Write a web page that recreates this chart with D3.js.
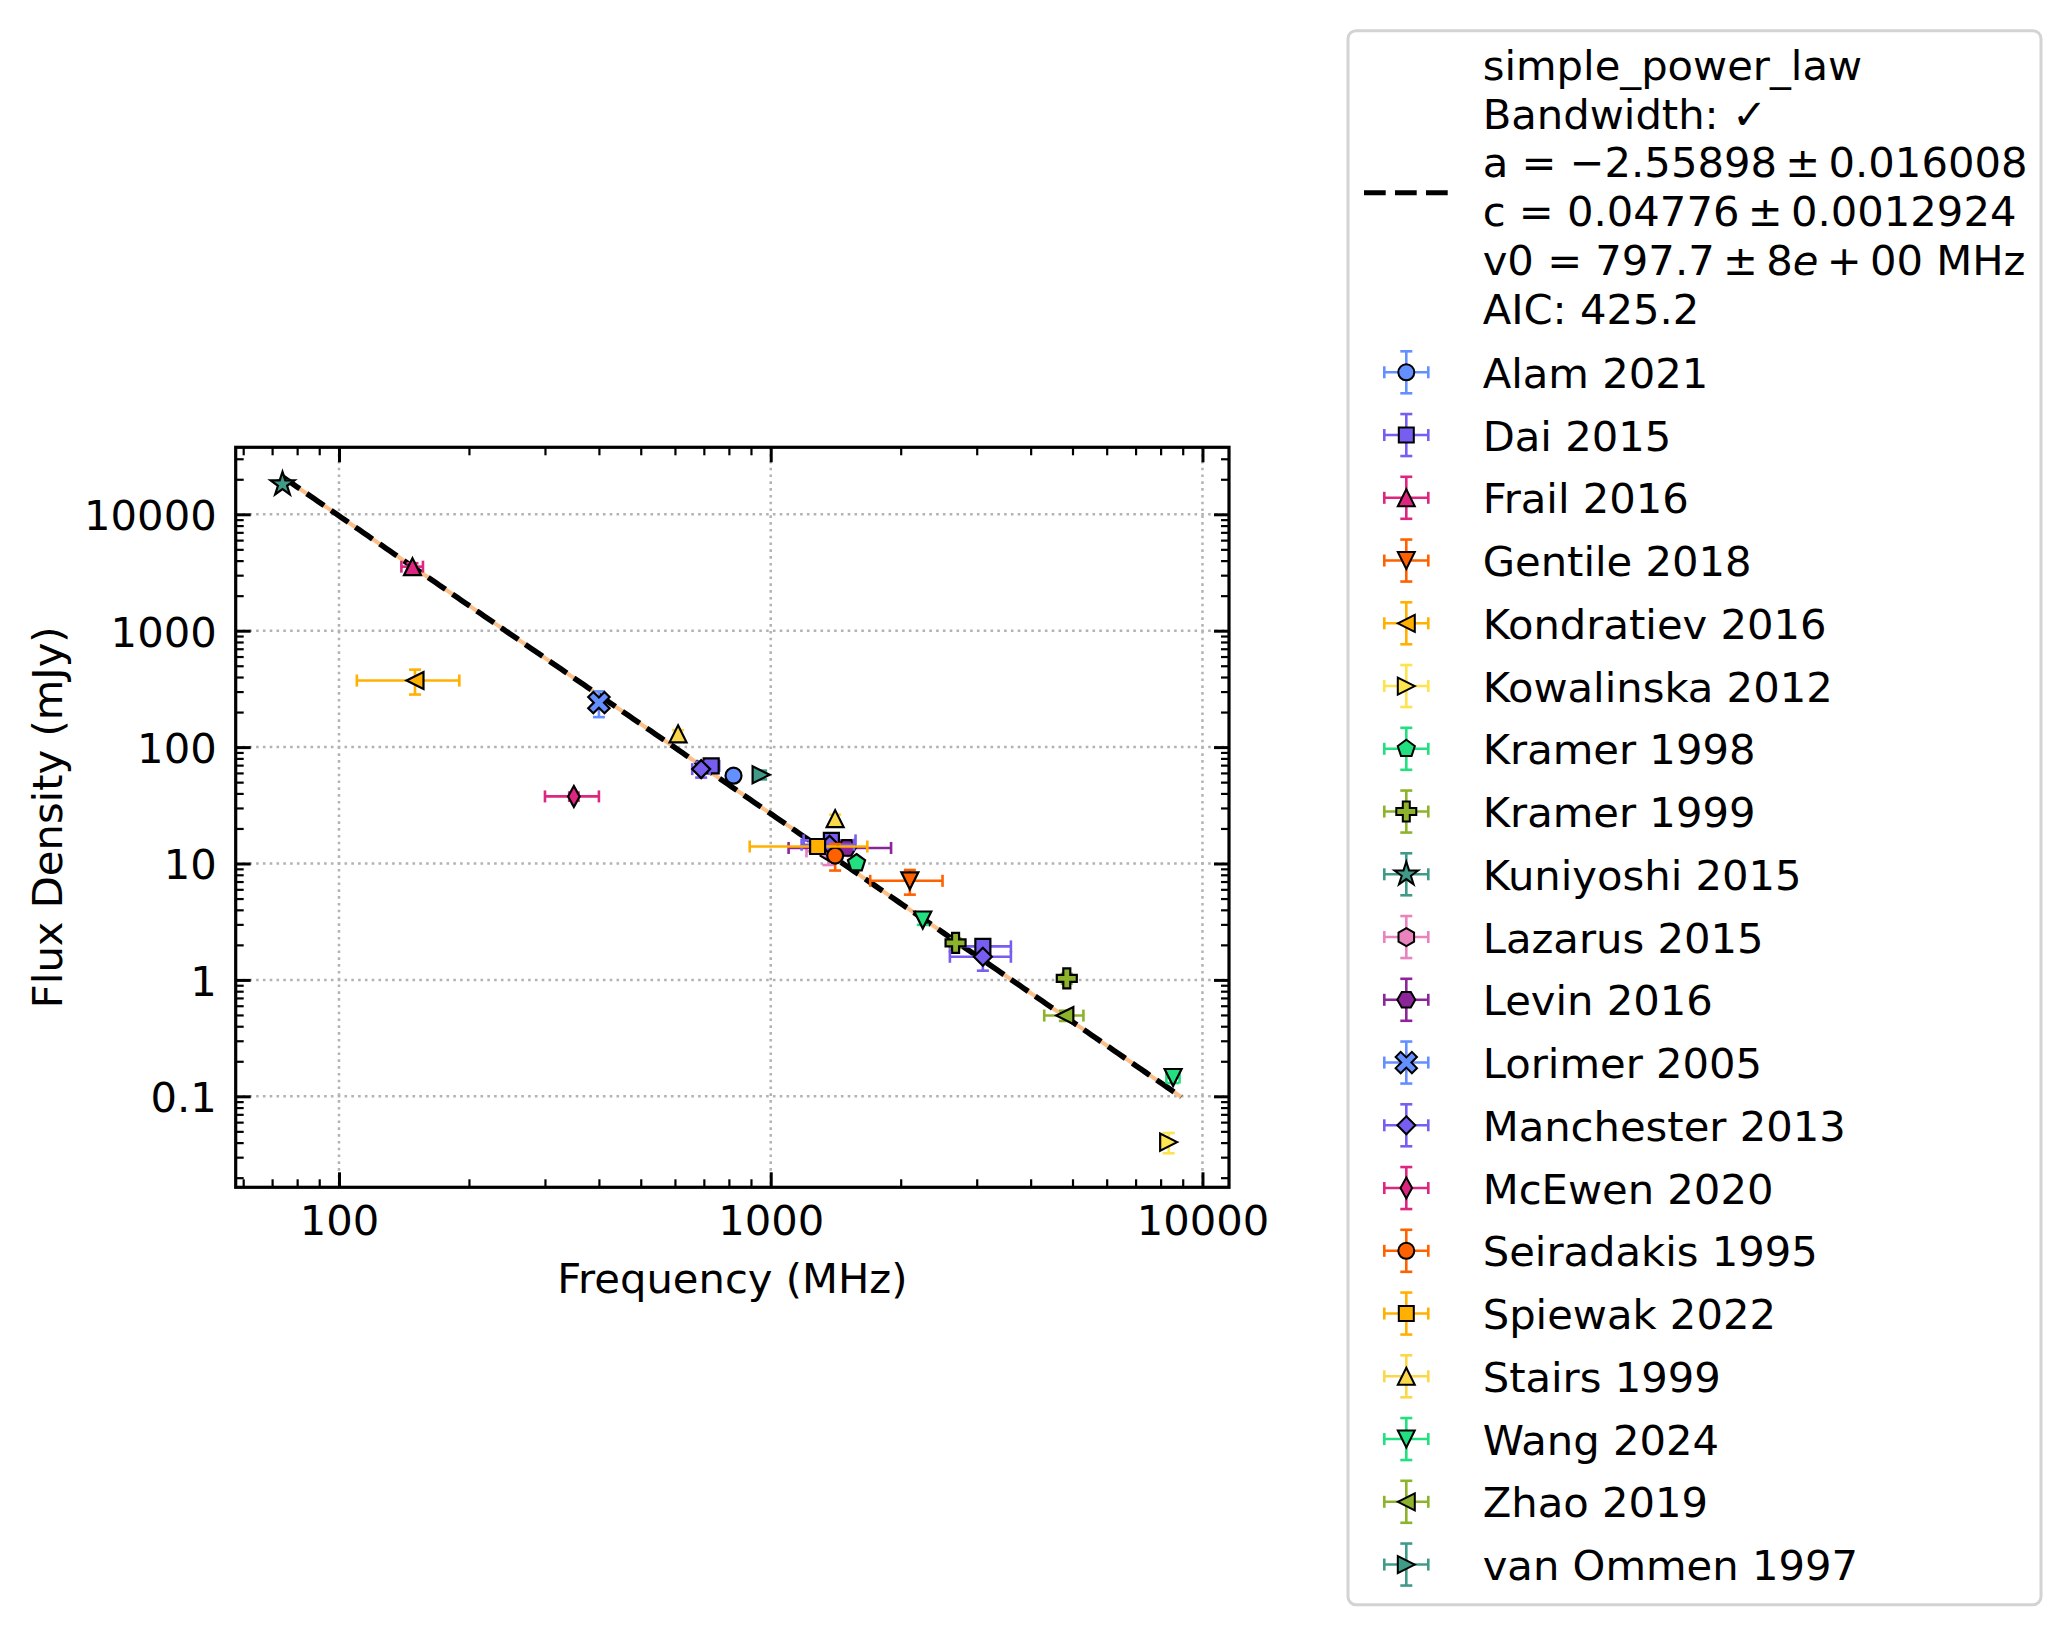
<!DOCTYPE html>
<html>
<head>
<meta charset="utf-8">
<script src="https://cdn.jsdelivr.net/npm/d3@7"></script>
<style>
  body { margin: 0; background: #fff; }
  svg { font-family: 'DejaVu Sans', sans-serif; }
</style>
</head>
<body>
<svg id="chart" width="2070" height="1636"></svg>
<script>
// ---- data (MHz, mJy) ----
var sources = ['Alam 2021', 'Dai 2015', 'Frail 2016', 'Gentile 2018', 'Kondratiev 2016',
  'Kowalinska 2012', 'Kramer 1998', 'Kramer 1999', 'Kuniyoshi 2015', 'Lazarus 2015',
  'Levin 2016', 'Lorimer 2005', 'Manchester 2013', 'McEwen 2020', 'Seiradakis 1995',
  'Spiewak 2022', 'Stairs 1999', 'Wang 2024', 'Zhao 2019', 'van Ommen 1997'];
var colors = ['#648fff', '#785ef0', '#dc267f', '#fe6100', '#ffb000',
  '#fde34d', '#22e07f', '#8db32c', '#409a88', '#e883be',
  '#8b2599', '#648fff', '#785ef0', '#dc267f', '#fe6100',
  '#ffb000', '#fbd84a', '#22e07f', '#8db32c', '#409a88'];
var markers = ['o', 's', '^', 'v', '<', '>', 'p', 'P', '*', 'h',
  'H', 'X', 'D', 'd', 'o', 's', '^', 'v', '<', '>'];

var freqs = [[820], [728, 1382, 3100], [148], [2100], [150],
  [8350], [1580], [2680, 4850], [74], [1360],
  [1500], [400], [690, 1369, 3100], [350], [1410],
  [1284], [610, 1410], [2250, 8550], [4800], [950]];
var fluxes = [[56.8], [69, 15.8, 1.94], [3550], [7.1], [373],
  [0.0404], [10.1], [2.08, 1.03], [18100], [12.7],
  [13.6], [241], [64.7, 14.5, 1.58], [37.7], [11.7],
  [14.0], [130, 24.3], [3.27, 0.145], [0.494], [57.8]];
var freqErrs = [[0], [32, 190, 500], [8.5], [400], [40],
  [0], [0], [0, 0], [0], [150],
  [400], [0], [32, 190, 500], [50], [0],
  [390], [0, 0], [0, 300], [500], [0]];
var fluxErrs = [[5], [6, 1.5, 0.2], [250], [1.7], [90],
  [0.008], [1], [0.2, 0.1], [1500], [3],
  [1.5], [60], [10, 1.5, 0.38], [3], [3],
  [1], [10, 2], [0.3, 0.015], [0.05], [5]];

// simple power law fit
var fitA = -2.55898;
var fitC = 0.04776;   // Jy
var fitV0 = 797.7;    // MHz
var fitRange = [74, 8930];
var fitLabel = [
  [{t: 'simple_power_law'}],
  [{t: 'Bandwidth: \u2713'}],
  [{t: 'a = \u22122.55898\u2009\u00b1\u20090.016008'}],
  [{t: 'c = 0.04776\u2009\u00b1\u20090.0012924'}],
  [{t: 'v0 = 797.7\u2009\u00b1\u20098'}, {t: 'e', it: true}, {t: '\u2009+\u200900 MHz'}],
  [{t: 'AIC: 425.2'}]
];

var xTicksMajor = [100, 1000, 10000];
var yTicksMajor = [0.1, 1, 10, 100, 1000, 10000];

// ---- layout ----
var X0 = 235.7, X1 = 1229, Y0 = 447.3, Y1 = 1187.3;
var FS = 41.7;

var svg = d3.select('#chart');

var x = d3.scaleLog().domain([57.65, 11520]).range([X0, X1]);
var y = d3.scaleLog().domain([0.01653, 37640]).range([Y1, Y0]);

function minorTicks(dom) {
  var out = [];
  for (var e = -3; e <= 5; e++) {
    for (var m = 2; m <= 9; m++) {
      var v = m * Math.pow(10, e);
      if (v >= dom[0] && v <= dom[1]) out.push(v);
    }
  }
  return out;
}

/**
 * Grid
 */
var grid = svg.append('g').attr('class', 'grid');
grid.selectAll('line.gx').data(xTicksMajor).enter().append('line')
  .attr('x1', function (d) { return x(d); }).attr('x2', function (d) { return x(d); })
  .attr('y1', Y0).attr('y2', Y1);
grid.selectAll('line.gy').data(yTicksMajor).enter().append('line')
  .attr('y1', function (d) { return y(d); }).attr('y2', function (d) { return y(d); })
  .attr('x1', X0).attr('x2', X1);
grid.selectAll('line')
  .attr('stroke', '#b3b3b3')
  .attr('stroke-width', 2.5)
  .attr('stroke-dasharray', '2.6,4.2');

/**
 * Axes (ticks inward on all four sides)
 */
function styleAxis(sel, width) {
  sel.select('.domain').remove();
  sel.selectAll('.tick line').attr('stroke', '#000').attr('stroke-width', width);
  sel.selectAll('.tick text')
    .attr('fill', '#000')
    .style('font-size', FS + 'px')
    .style('font-family', "'DejaVu Sans', sans-serif");
}

var fmt = function (d) { return String(d); };

svg.append('g').attr('transform', 'translate(0,' + Y1 + ')')
  .call(d3.axisBottom(x).tickValues(xTicksMajor).tickFormat(fmt)
    .tickSizeInner(-15).tickSizeOuter(0).tickPadding(18))
  .call(styleAxis, 3);
svg.append('g').attr('transform', 'translate(0,' + Y1 + ')')
  .call(d3.axisBottom(x).tickValues(minorTicks(x.domain())).tickFormat('')
    .tickSizeInner(-8).tickSizeOuter(0))
  .call(styleAxis, 2.2);
svg.append('g').attr('transform', 'translate(0,' + Y0 + ')')
  .call(d3.axisTop(x).tickValues(xTicksMajor).tickFormat('')
    .tickSizeInner(-15).tickSizeOuter(0))
  .call(styleAxis, 3);
svg.append('g').attr('transform', 'translate(0,' + Y0 + ')')
  .call(d3.axisTop(x).tickValues(minorTicks(x.domain())).tickFormat('')
    .tickSizeInner(-8).tickSizeOuter(0))
  .call(styleAxis, 2.2);

var yAxis = svg.append('g').attr('transform', 'translate(' + X0 + ',0)')
  .call(d3.axisLeft(y).tickValues(yTicksMajor).tickFormat(fmt)
    .tickSizeInner(-15).tickSizeOuter(0).tickPadding(19))
  .call(styleAxis, 3);
yAxis.selectAll('.tick text').attr('dy', '0.37em');
svg.append('g').attr('transform', 'translate(' + X0 + ',0)')
  .call(d3.axisLeft(y).tickValues(minorTicks(y.domain())).tickFormat('')
    .tickSizeInner(-8).tickSizeOuter(0))
  .call(styleAxis, 2.2);
svg.append('g').attr('transform', 'translate(' + X1 + ',0)')
  .call(d3.axisRight(y).tickValues(yTicksMajor).tickFormat('')
    .tickSizeInner(-15).tickSizeOuter(0))
  .call(styleAxis, 3);
svg.append('g').attr('transform', 'translate(' + X1 + ',0)')
  .call(d3.axisRight(y).tickValues(minorTicks(y.domain())).tickFormat('')
    .tickSizeInner(-8).tickSizeOuter(0))
  .call(styleAxis, 2.2);

// frame
svg.append('rect')
  .attr('x', X0).attr('y', Y0)
  .attr('width', X1 - X0).attr('height', Y1 - Y0)
  .attr('fill', 'none').attr('stroke', '#000').attr('stroke-width', 3.2);

// axis labels
svg.append('text')
  .attr('x', (X0 + X1) / 2).attr('y', 1293)
  .attr('text-anchor', 'middle')
  .style('font-size', FS + 'px')
  .text('Frequency (MHz)');
svg.append('text')
  .attr('transform', 'translate(62,' + ((Y0 + Y1) / 2) + ') rotate(-90)')
  .attr('text-anchor', 'middle')
  .style('font-size', FS + 'px')
  .text('Flux Density (mJy)');

/**
 * Fit line
 */
var fitPts = d3.range(0, 201).map(function (i) {
  var f = fitRange[0] * Math.pow(fitRange[1] / fitRange[0], i / 200);
  return [f, fitC * 1000 * Math.pow(f / fitV0, fitA)];
});
var fitLine = d3.line()
  .x(function (d) { return x(d[0]); })
  .y(function (d) { return y(d[1]); });

var plotArea = svg.append('g');
plotArea.append('path')
  .attr('d', fitLine(fitPts))
  .attr('fill', 'none').attr('stroke', '#fdbf88').attr('stroke-width', 4);
plotArea.append('path')
  .attr('d', fitLine(fitPts))
  .attr('fill', 'none').attr('stroke', '#000').attr('stroke-width', 5.5)
  .attr('stroke-dasharray', '21,8.5');

/**
 * Marker shapes
 */
function ring(n, r, a0) {
  return d3.range(n).map(function (k) {
    var a = a0 + 2 * Math.PI * k / n;
    return [r * Math.cos(a), r * Math.sin(a)];
  });
}
function toPath(pts) {
  return 'M' + pts.map(function (p) { return p[0].toFixed(2) + ',' + p[1].toFixed(2); }).join('L') + 'Z';
}
function plusPts(L, t) {
  return [[-t, -L], [t, -L], [t, -t], [L, -t], [L, t], [t, t], [t, L], [-t, L], [-t, t], [-L, t], [-L, -t], [-t, -t]];
}
function markerPath(m) {
  switch (m) {
    case 'o': return 'M8,0A8,8 0 1,1 -8,0A8,8 0 1,1 8,0Z';
    case 's': return toPath([[-7.5, -7.5], [7.5, -7.5], [7.5, 7.5], [-7.5, 7.5]]);
    case '^': return toPath([[0, -8.5], [8.5, 8.5], [-8.5, 8.5]]);
    case 'v': return toPath([[0, 8.5], [8.5, -8.5], [-8.5, -8.5]]);
    case '<': return toPath([[-8.5, 0], [8.5, -8.5], [8.5, 8.5]]);
    case '>': return toPath([[8.5, 0], [-8.5, -8.5], [-8.5, 8.5]]);
    case 'D': return toPath([[0, -9], [9, 0], [0, 9], [-9, 0]]);
    case 'd': return toPath([[0, -10.5], [5.8, 0], [0, 10.5], [-5.8, 0]]);
    case 'p': return toPath(ring(5, 9, -Math.PI / 2));
    case 'h': return toPath(ring(6, 9, -Math.PI / 2));
    case 'H': return toPath(ring(6, 9, 0));
    case 'P': return toPath(plusPts(10, 3.5));
    case 'X': return toPath(plusPts(11.5, 3.6).map(function (p) {
      var c = Math.SQRT1_2;
      return [c * (p[0] - p[1]), c * (p[0] + p[1])];
    }));
    case '*':
      var pts = d3.range(10).map(function (k) {
        var r = k % 2 === 0 ? 12.5 : 4.8;
        var a = -Math.PI / 2 + Math.PI * k / 5;
        return [r * Math.cos(a), r * Math.sin(a)];
      });
      return toPath(pts);
  }
}

/**
 * Data points with error bars
 */
var CAP = 6;
sources.forEach(function (name, si) {
  var pts = freqs[si].map(function (f, i) {
    return { f: f, s: fluxes[si][i], fe: freqErrs[si][i], se: fluxErrs[si][i] };
  });
  var grp = plotArea.append('g').attr('class', 'series');
  var bars = grp.append('g')
    .attr('stroke', colors[si]).attr('stroke-width', 2.6).attr('fill', 'none');
  pts.forEach(function (p) {
    var cx = x(p.f), cy = y(p.s);
    if (p.fe > 0) {
      var xl = x(p.f - p.fe), xr = x(p.f + p.fe);
      bars.append('line').attr('x1', xl).attr('x2', xr).attr('y1', cy).attr('y2', cy);
      bars.append('line').attr('x1', xl).attr('x2', xl).attr('y1', cy - CAP).attr('y2', cy + CAP);
      bars.append('line').attr('x1', xr).attr('x2', xr).attr('y1', cy - CAP).attr('y2', cy + CAP);
    }
    if (p.se > 0) {
      var yt = y(p.s + p.se), yb = y(p.s - p.se);
      bars.append('line').attr('x1', cx).attr('x2', cx).attr('y1', yt).attr('y2', yb);
      bars.append('line').attr('x1', cx - CAP).attr('x2', cx + CAP).attr('y1', yt).attr('y2', yt);
      bars.append('line').attr('x1', cx - CAP).attr('x2', cx + CAP).attr('y1', yb).attr('y2', yb);
    }
  });
  grp.selectAll('path.mk').data(pts).enter().append('path')
    .attr('class', 'mk')
    .attr('d', markerPath(markers[si]))
    .attr('transform', function (d) { return 'translate(' + x(d.f) + ',' + y(d.s) + ')'; })
    .attr('fill', colors[si])
    .attr('stroke', '#000').attr('stroke-width', 2.2)
    .attr('stroke-linejoin', 'miter');
});

/**
 * Legend
 */
var legend = svg.append('g').attr('class', 'legend');
legend.append('rect')
  .attr('x', 1348).attr('y', 30.7)
  .attr('width', 693).attr('height', 1574)
  .attr('rx', 8).attr('ry', 8)
  .attr('fill', '#fff').attr('stroke', '#d3d3d3').attr('stroke-width', 3);

legend.append('line')
  .attr('x1', 1364).attr('x2', 1448).attr('y1', 192.7).attr('y2', 192.7)
  .attr('stroke', '#000').attr('stroke-width', 5)
  .attr('stroke-dasharray', '21.7,9.3');

fitLabel.forEach(function (parts, i) {
  var t = legend.append('text')
    .attr('x', 1482.7).attr('y', 80 + 48.7 * i)
    .style('font-size', FS + 'px');
  parts.forEach(function (p) {
    t.append('tspan').style('font-style', p.it ? 'italic' : 'normal').text(p.t);
  });
});

var HX = 1406.3, TX = 1482.7;
sources.forEach(function (name, si) {
  var cy = 372.3 + 62.75 * si;
  var h = legend.append('g')
    .attr('stroke', colors[si]).attr('stroke-width', 2.6);
  h.append('line').attr('x1', HX - 22).attr('x2', HX + 22).attr('y1', cy).attr('y2', cy);
  h.append('line').attr('x1', HX - 22).attr('x2', HX - 22).attr('y1', cy - CAP).attr('y2', cy + CAP);
  h.append('line').attr('x1', HX + 22).attr('x2', HX + 22).attr('y1', cy - CAP).attr('y2', cy + CAP);
  h.append('line').attr('x1', HX).attr('x2', HX).attr('y1', cy - 21).attr('y2', cy + 21);
  h.append('line').attr('x1', HX - CAP).attr('x2', HX + CAP).attr('y1', cy - 21).attr('y2', cy - 21);
  h.append('line').attr('x1', HX - CAP).attr('x2', HX + CAP).attr('y1', cy + 21).attr('y2', cy + 21);
  legend.append('path')
    .attr('d', markerPath(markers[si]))
    .attr('transform', 'translate(' + HX + ',' + cy + ')')
    .attr('fill', colors[si])
    .attr('stroke', '#000').attr('stroke-width', 2);
  legend.append('text')
    .attr('x', TX).attr('y', cy + 15.5)
    .style('font-size', FS + 'px')
    .text(name);
});
</script>
</body>
</html>
